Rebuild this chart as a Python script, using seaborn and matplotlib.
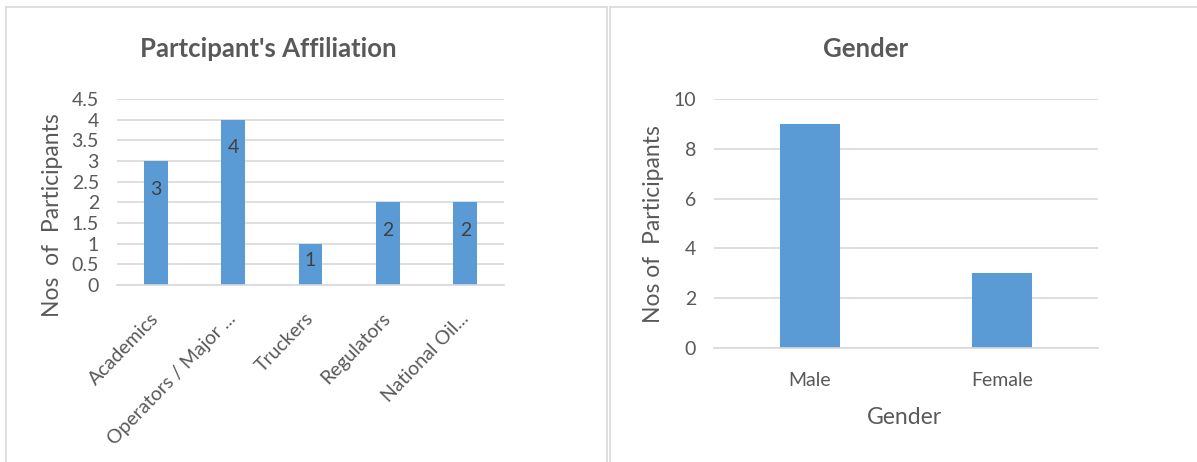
import matplotlib
matplotlib.use("Agg")
import matplotlib.pyplot as plt
from matplotlib.lines import Line2D
import seaborn as sns
import pandas as pd

# ---- data ----
affiliation_categories = ["Academics", "Operators / Major ...", "Truckers", "Regulators", "National Oil..."]
affiliation_counts = [3, 4, 1, 2, 2]
affiliation_yticks = [0, 0.5, 1, 1.5, 2, 2.5, 3, 3.5, 4, 4.5]
affiliation_yticklabels = ["0", "0.5", "1", "1.5", "2", "2.5", "3", "3.5", "4", "4.5"]

gender_categories = ["Male", "Female"]
gender_counts = [9, 3]
gender_yticks = [0, 2, 4, 6, 8, 10]

# ---- style ----
sns.set_theme(style="white")
plt.rcParams["font.family"] = ["Lato", "DejaVu Sans"]
BAR = "#5B9BD5"
GRID = "#D9D9D9"
TXT = "#595959"
LBL = "#404040"
TICK_FS = 14
AXLBL_FS = 16.5
TITLE_FS = 18.5

W, H = 1197, 462
fig = plt.figure(figsize=(W / 100, H / 100), dpi=100)
fig.patch.set_facecolor("white")


def fx(px):
    return px / W


def fy(py):
    return 1 - py / H


# panel borders
for (x0, y0, x1, y1) in [
    (6, 7, 6, H), (6, 7, 607, 7), (607, 7, 607, H),
    (610, 7, 610, H), (610, 7, W, 7),
]:
    fig.add_artist(Line2D([fx(x0), fx(x1)], [fy(y0), fy(y1)], transform=fig.transFigure,
                          color=GRID, lw=1.2))


def style_axes(ax):
    for s in ["left", "right", "top"]:
        ax.spines[s].set_visible(False)
    ax.spines["bottom"].set_color(GRID)
    ax.spines["bottom"].set_linewidth(1.2)
    ax.yaxis.grid(True, color=GRID, lw=1.2)
    ax.set_axisbelow(True)
    ax.tick_params(axis="both", length=0, colors=TXT)


# ---- left chart ----
axL = fig.add_axes([fx(117), fy(285), fx(504) - fx(117), fy(99) - fy(285)])
dfL = pd.DataFrame({"cat": affiliation_categories, "n": affiliation_counts})
sns.barplot(data=dfL, x="cat", y="n", ax=axL, color=BAR, saturation=1, width=0.31, linewidth=0)
axL.set_xlim(-0.5, len(affiliation_categories) - 0.5)
axL.set_ylim(0, 4.5)
axL.set_yticks(affiliation_yticks)
axL.set_yticklabels(affiliation_yticklabels, fontsize=TICK_FS, color=TXT)
style_axes(axL)
axL.tick_params(axis="y", pad=13)
axL.tick_params(axis="x", pad=22)
for lab in axL.get_xticklabels():
    lab.set_rotation(46)
    lab.set_ha("right")
    lab.set_va("center")
    lab.set_rotation_mode("anchor")
    lab.set_fontsize(TICK_FS)
    lab.set_color(TXT)
axL.set_xlabel("")
axL.set_ylabel("Nos  of  Participants", fontsize=AXLBL_FS, color=TXT)
axL.yaxis.set_label_coords(-0.14, 0.376)
for i, v in enumerate(affiliation_counts):
    axL.text(i, v - min(0.68, v * 0.4), str(v), ha="center", va="center",
             fontsize=TICK_FS, color=LBL)
fig.text(fx(268), fy(49), "Partcipant's Affiliation", ha="center", va="center",
         fontsize=TITLE_FS, fontweight="bold", color=TXT)

# ---- right chart ----
axR = fig.add_axes([fx(714), fy(348), fx(1098) - fx(714), fy(99) - fy(348)])
dfR = pd.DataFrame({"cat": gender_categories, "n": gender_counts})
sns.barplot(data=dfR, x="cat", y="n", ax=axR, color=BAR, saturation=1, width=0.31, linewidth=0)
axR.set_xlim(-0.5, len(gender_categories) - 0.5)
axR.set_ylim(0, 10)
axR.set_yticks(gender_yticks)
axR.set_yticklabels([str(t) for t in gender_yticks], fontsize=TICK_FS, color=TXT)
style_axes(axR)
axR.tick_params(axis="y", pad=13)
axR.tick_params(axis="x", pad=17, labelsize=TICK_FS)
axR.set_xlabel("Gender", fontsize=AXLBL_FS, color=TXT)
axR.xaxis.set_label_coords(0.497, -0.235)
axR.set_ylabel("Nos of  Participants", fontsize=AXLBL_FS, color=TXT)
axR.yaxis.set_label_coords(-0.13, 0.498)
fig.text(fx(866), fy(49), "Gender", ha="center", va="center",
         fontsize=TITLE_FS, fontweight="bold", color=TXT)

fig.savefig("out.png", dpi=100, facecolor="white")
